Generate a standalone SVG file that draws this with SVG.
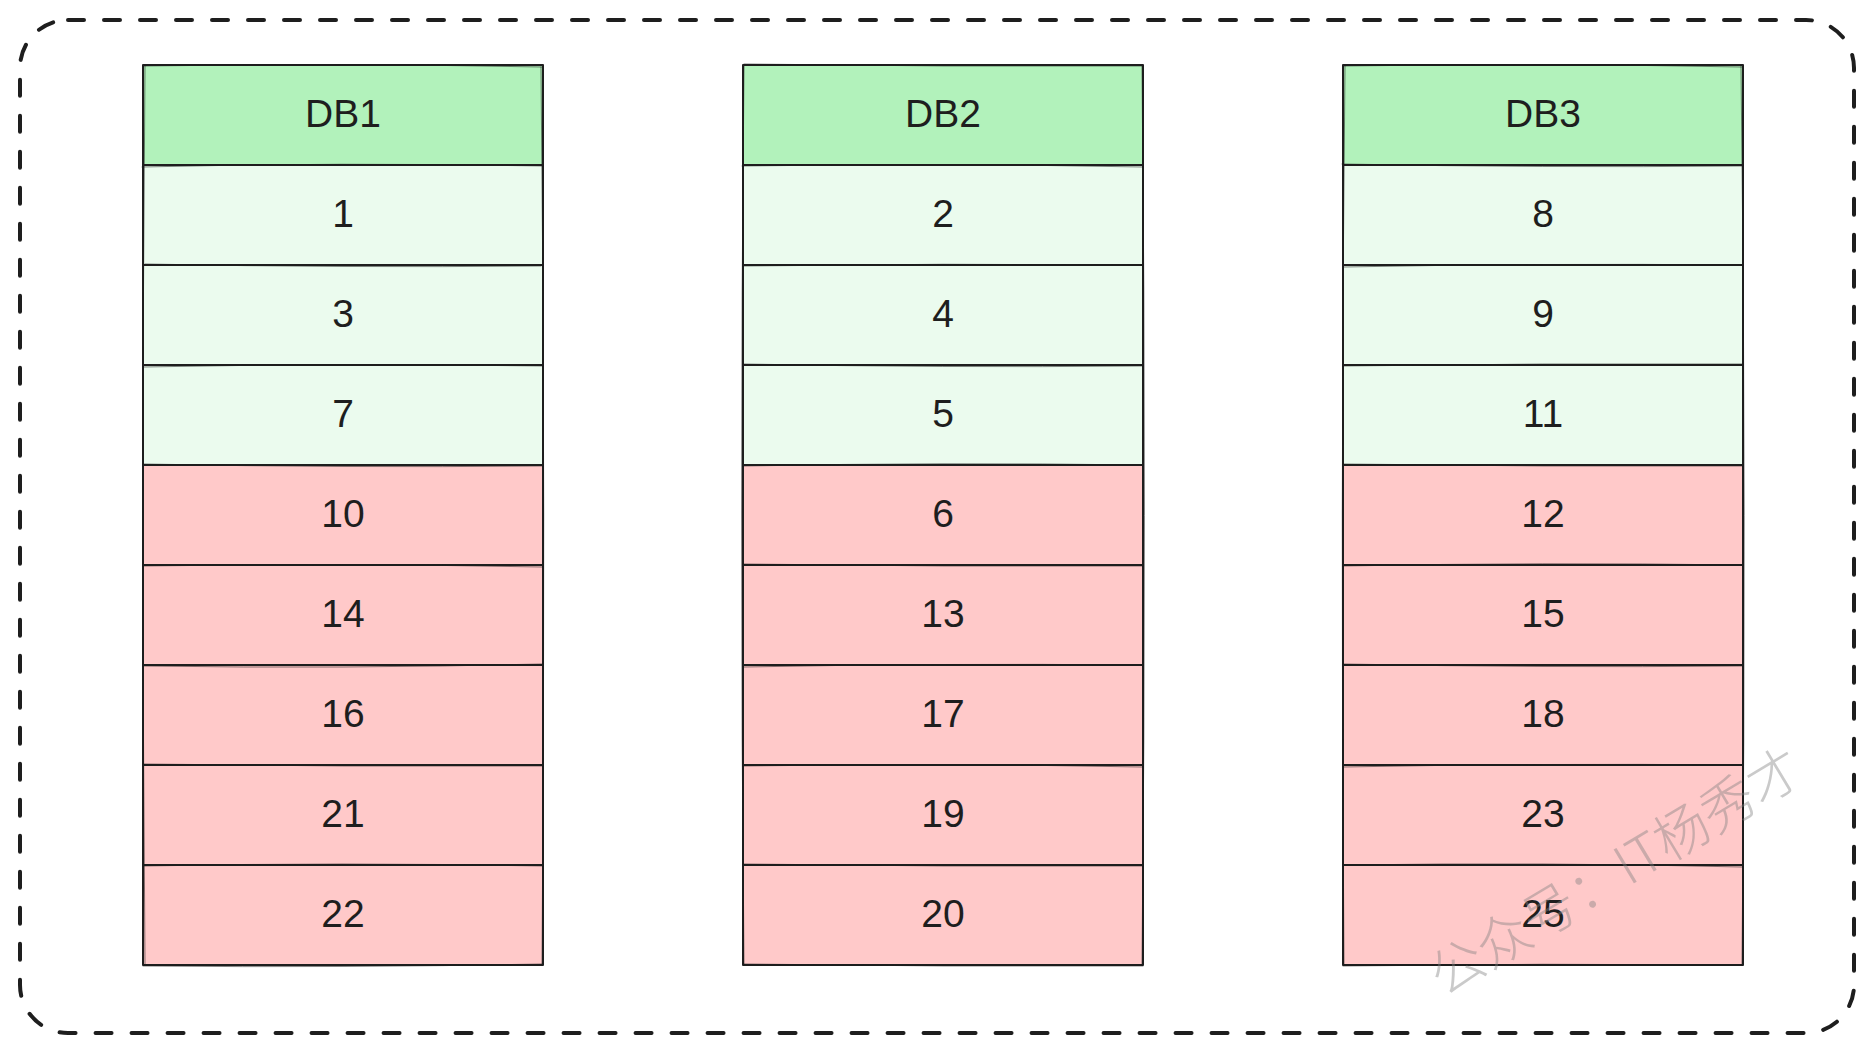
<svg xmlns="http://www.w3.org/2000/svg" width="1873" height="1055" viewBox="0 0 1873 1055">
<style>
.hd{fill:#b2f2bb}
.lg{fill:#ebfbee}
.pk{fill:#ffc9c9}
.cell{stroke:#1e1e1e;stroke-width:2;stroke-linejoin:round}
.sk{fill:none;stroke:#1e1e1e;stroke-width:1;stroke-opacity:0.55;stroke-linecap:round}
.t{font-family:"Liberation Sans",Arial,Helvetica,sans-serif;font-size:39px;fill:#1e1e1e;text-anchor:middle}
.frame{fill:none;stroke:#1e1e1e;stroke-width:4;stroke-dasharray:16 20;stroke-linecap:round}
.wm{font-family:"Noto Sans CJK SC","Noto Sans",sans-serif;font-size:54px;font-weight:300;fill:#808080;fill-opacity:0.42;text-anchor:middle}
</style>
<rect x="0" y="0" width="1873" height="1055" fill="#ffffff"/>
<g id="frame">
<rect class="frame" x="20" y="20" width="1834" height="1013" rx="48" ry="48"/>
</g>
<g id="db1">
<g id="db1-h"><rect class="cell hd" x="143" y="65" width="400" height="100"/><text class="t" x="343" y="127">DB1</text></g>
<g id="db1-1"><rect class="cell lg" x="143" y="165" width="400" height="100"/><text class="t" x="343" y="227">1</text></g>
<g id="db1-3"><rect class="cell lg" x="143" y="265" width="400" height="100"/><text class="t" x="343" y="327">3</text></g>
<g id="db1-7"><rect class="cell lg" x="143" y="365" width="400" height="100"/><text class="t" x="343" y="427">7</text></g>
<g id="db1-10"><rect class="cell pk" x="143" y="465" width="400" height="100"/><text class="t" x="343" y="527">10</text></g>
<g id="db1-14"><rect class="cell pk" x="143" y="565" width="400" height="100"/><text class="t" x="343" y="627">14</text></g>
<g id="db1-16"><rect class="cell pk" x="143" y="665" width="400" height="100"/><text class="t" x="343" y="727">16</text></g>
<g id="db1-21"><rect class="cell pk" x="143" y="765" width="400" height="100"/><text class="t" x="343" y="827">21</text></g>
<g id="db1-22"><rect class="cell pk" x="143" y="865" width="400" height="100"/><text class="t" x="343" y="927">22</text></g>
<path class="sk" d="M144 66 Q343 63 542 67 M142 167 Q340 162 543 166 M145 264 Q343 268 541 266 M143 367 Q343 363 542 366 M144 464 Q343 468 542 466 M143 566 Q343 563 542 567 M144 666 Q343 669 542 664 M143 764 Q343 767 542 766 M144 866 Q343 862 542 866 M143 966 Q343 968 543 964 M145 66 Q141 515 145 964 M541 67 Q546 515 542 965"/>
</g>
<g id="db2">
<g id="db2-h"><rect class="cell hd" x="743" y="65" width="400" height="100"/><text class="t" x="943" y="127">DB2</text></g>
<g id="db2-2"><rect class="cell lg" x="743" y="165" width="400" height="100"/><text class="t" x="943" y="227">2</text></g>
<g id="db2-4"><rect class="cell lg" x="743" y="265" width="400" height="100"/><text class="t" x="943" y="327">4</text></g>
<g id="db2-5"><rect class="cell lg" x="743" y="365" width="400" height="100"/><text class="t" x="943" y="427">5</text></g>
<g id="db2-6"><rect class="cell pk" x="743" y="465" width="400" height="100"/><text class="t" x="943" y="527">6</text></g>
<g id="db2-13"><rect class="cell pk" x="743" y="565" width="400" height="100"/><text class="t" x="943" y="627">13</text></g>
<g id="db2-17"><rect class="cell pk" x="743" y="665" width="400" height="100"/><text class="t" x="943" y="727">17</text></g>
<g id="db2-19"><rect class="cell pk" x="743" y="765" width="400" height="100"/><text class="t" x="943" y="827">19</text></g>
<g id="db2-20"><rect class="cell pk" x="743" y="865" width="400" height="100"/><text class="t" x="943" y="927">20</text></g>
<path class="sk" d="M744 64 Q943 67 1142 66 M742 166 Q943 163 1143 167 M744 266 Q943 263 1142 265 M743 364 Q943 368 1142 366 M744 466 Q943 462 1142 465 M743 564 Q943 567 1142 566 M744 667 Q943 663 1142 665 M743 766 Q943 763 1142 767 M744 864 Q943 867 1142 866 M743 964 Q943 967 1143 966 M744 66 Q739 515 744 964 M1142 66 Q1147 515 1142 965"/>
</g>
<g id="db3">
<g id="db3-h"><rect class="cell hd" x="1343" y="65" width="400" height="100"/><text class="t" x="1543" y="127">DB3</text></g>
<g id="db3-8"><rect class="cell lg" x="1343" y="165" width="400" height="100"/><text class="t" x="1543" y="227">8</text></g>
<g id="db3-9"><rect class="cell lg" x="1343" y="265" width="400" height="100"/><text class="t" x="1543" y="327">9</text></g>
<g id="db3-11"><rect class="cell lg" x="1343" y="365" width="400" height="100"/><text class="t" x="1543" y="427">11</text></g>
<g id="db3-12"><rect class="cell pk" x="1343" y="465" width="400" height="100"/><text class="t" x="1543" y="527">12</text></g>
<g id="db3-15"><rect class="cell pk" x="1343" y="565" width="400" height="100"/><text class="t" x="1543" y="627">15</text></g>
<g id="db3-18"><rect class="cell pk" x="1343" y="665" width="400" height="100"/><text class="t" x="1543" y="727">18</text></g>
<g id="db3-23"><rect class="cell pk" x="1343" y="765" width="400" height="100"/><text class="t" x="1543" y="827">23</text></g>
<g id="db3-25"><rect class="cell pk" x="1343" y="865" width="400" height="100"/><text class="t" x="1543" y="927">25</text></g>
<path class="sk" d="M1344 66 Q1543 63 1742 67 M1342 164 Q1543 168 1743 166 M1344 267 Q1543 263 1742 265 M1343 366 Q1543 363 1742 364 M1344 464 Q1543 467 1742 466 M1343 566 Q1543 562 1742 565 M1344 664 Q1543 668 1742 666 M1343 767 Q1543 763 1742 765 M1344 865 Q1543 862 1742 867 M1343 966 Q1543 963 1743 965 M1345 66 Q1340 515 1344 964 M1741 66 Q1747 515 1742 965"/>
</g>
<g id="watermark">
<text class="wm" transform="translate(1616,872) rotate(-31)" x="0" y="19">公众号：IT杨秀才</text>
</g>
</svg>
